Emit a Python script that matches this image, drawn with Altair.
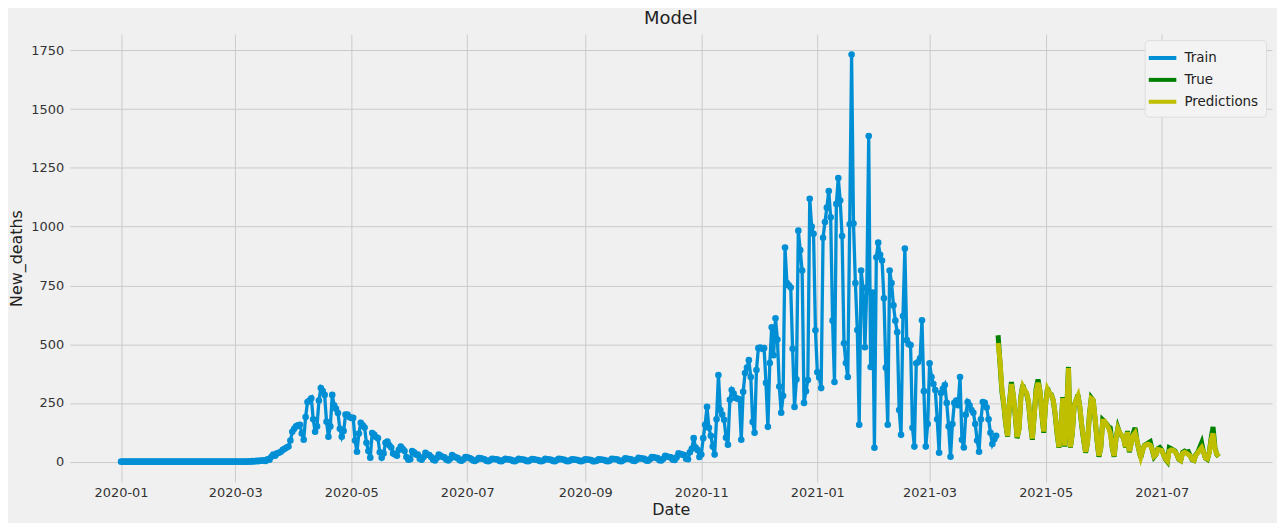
import altair as alt
import pandas as pd

# ---- Train series (daily New_deaths), one list per month ----
train_2020_01 = [0, 0, 0, 0, 0, 0, 0, 0, 0, 0, 0, 0, 0, 0, 0, 0, 0, 0, 0, 0, 0, 0, 0, 0, 0, 0, 0, 0, 0, 0, 0]
train_2020_02 = [0, 0, 0, 0, 0, 0, 0, 0, 0, 0, 0, 0, 0, 0, 0, 0, 0, 0, 0, 0, 0, 0, 0, 0, 0, 0, 0, 0, 0]
train_2020_03 = [0, 0, 0, 0, 0, 0, 0, 1, 0, 2, 1, 3, 2, 5, 4, 6, 3, 10, 8, 21, 30, 25, 35, 38, 42, 50, 55, 60, 64, 90, 127]
train_2020_04 = [140, 150, 155, 157, 120, 93, 190, 254, 260, 270, 180, 127, 150, 260, 313, 300, 284, 170, 106, 150,
                 284, 240, 225, 207, 140, 106, 130, 200, 200, 190]
train_2020_05 = [186, 186, 90, 42, 120, 165, 155, 145, 80, 45, 17, 122, 115, 105, 100, 40, 17, 35, 80, 85,
                 70, 60, 35, 30, 25, 50, 64, 55, 45, 20, 8]
train_2020_06 = [10, 45, 40, 30, 30, 12, 8, 20, 38, 30, 28, 20, 8, 5, 15, 30, 25, 20, 18, 8,
                 5, 12, 28, 22, 18, 15, 6, 4, 10, 20]
train_2020_07 = [18, 15, 12, 5, 3, 8, 15, 14, 12, 10, 4, 2, 6, 12, 11, 10, 9, 3, 2, 7,
                 12, 10, 9, 8, 3, 2, 6, 12, 10, 9, 8]
train_2020_08 = [3, 2, 6, 11, 10, 8, 7, 3, 2, 5, 12, 10, 9, 8, 3, 2, 6, 12, 11, 9,
                 8, 3, 2, 5, 10, 9, 8, 7, 3, 2, 5]
train_2020_09 = [10, 9, 8, 7, 2, 2, 4, 10, 9, 8, 7, 3, 2, 5, 12, 11, 10, 9, 3, 2,
                 6, 14, 12, 11, 10, 4, 3, 8, 16, 14]
train_2020_10 = [13, 12, 5, 4, 10, 20, 18, 16, 15, 6, 5, 12, 25, 22, 20, 18, 8, 7, 18, 35,
                 32, 30, 28, 12, 10, 40, 55, 100, 60, 50, 20]
train_2020_11 = [30, 100, 157, 233, 144, 110, 64, 30, 180, 369, 220, 200, 178, 102, 72, 263, 305, 290, 271, 268,
                 265, 93, 297, 377, 400, 432, 360, 169, 123, 390]
train_2020_12 = [483, 485, 480, 483, 335, 148, 420, 572, 453, 610, 520, 320, 208, 280, 911, 760, 750, 741, 480, 233,
                 350, 983, 900, 813, 250, 300, 347, 1119, 1000, 970, 559]
train_2021_01 = [380, 358, 313, 953, 1020, 1081, 1152, 1040, 600, 339, 1097, 1207, 1111, 960, 504, 420, 360, 1010,
                 1733, 1013, 760, 560, 157, 813, 740, 487, 740, 1386, 403, 720, 59]
train_2021_02 = [870, 932, 880, 856, 695, 400, 157, 813, 760, 665, 600, 551, 220, 114, 620, 907, 517, 500, 496, 144,
                 64, 419, 424, 440, 602, 300, 64, 160]
train_2021_03 = [419, 360, 330, 305, 180, 38, 292, 310, 326, 250, 150, 21, 160, 250, 260, 240, 360, 93, 60, 200,
                 254, 240, 220, 208, 160, 90, 42, 180, 254, 250, 230]
train_2021_04 = [180, 123, 75, 95, 110]

# ---- Test period: True and Predictions (start 2021-04-06) ----
true_2021_04 = [538, 420, 300, 240, 160, 106, 250, 339, 280, 200, 100, 140, 280, 326, 300, 290, 250, 160, 93, 200,
                310, 350, 300, 200, 123]
true_2021_05 = [250, 313, 290, 285, 260, 200, 120, 59, 130, 275, 64, 200, 403, 59, 120, 240, 260, 284, 230, 150,
                90, 38, 80, 200, 271, 260, 180, 90, 21, 60, 178]
true_2021_06 = [170, 160, 150, 144, 60, 21, 100, 144, 120, 110, 100, 60, 130, 40, 80, 120, 144, 90, 50, 17,
                50, 70, 75, 80, 85, 50, 20, 30, 55, 60]
true_2021_07 = [50, 30, 10, 0, 59, 55, 50, 45, 30, 10, 5, 40, 45, 40, 42, 25, 8, 5, 30, 40,
                60, 80, 40, 15, 10, 40, 100, 148, 60, 30, 21]

pred_2021_04 = [505, 430, 310, 245, 165, 110, 245, 330, 285, 205, 105, 135, 275, 320, 305, 292, 255, 165, 98, 195,
                300, 335, 305, 205, 128]
pred_2021_05 = [245, 308, 292, 283, 262, 205, 125, 62, 128, 270, 68, 198, 398, 62, 118, 236, 262, 280, 232, 155,
                95, 42, 78, 196, 268, 262, 185, 95, 25, 58, 172]
pred_2021_06 = [172, 158, 145, 120, 62, 24, 98, 140, 122, 112, 98, 62, 126, 44, 78, 112, 122, 92, 52, 20,
                48, 68, 72, 74, 70, 52, 23, 30, 52, 50]
pred_2021_07 = [48, 30, 12, 3, 45, 50, 48, 42, 30, 12, 6, 36, 40, 36, 30, 24, 10, 6, 28, 38,
                50, 60, 40, 16, 12, 36, 90, 120, 55, 32, 22]

series_names = ["Train", "True", "Predictions"]
series_colors = ["#008fd5", "#008000", "#bfbf00"]
y_ticks = [0, 250, 500, 750, 1000, 1250, 1500, 1750]


def month_frame(start, values, name):
    dates = pd.date_range(start, periods=len(values), freq="D")
    return pd.DataFrame({"Date": dates, "New_deaths": values, "Series": name})


train_parts = [
    ("2020-01-01", train_2020_01), ("2020-02-01", train_2020_02), ("2020-03-01", train_2020_03),
    ("2020-04-01", train_2020_04), ("2020-05-01", train_2020_05), ("2020-06-01", train_2020_06),
    ("2020-07-01", train_2020_07), ("2020-08-01", train_2020_08), ("2020-09-01", train_2020_09),
    ("2020-10-01", train_2020_10), ("2020-11-01", train_2020_11), ("2020-12-01", train_2020_12),
    ("2021-01-01", train_2021_01), ("2021-02-01", train_2021_02), ("2021-03-01", train_2021_03),
    ("2021-04-01", train_2021_04),
]
true_parts = [("2021-04-06", true_2021_04), ("2021-05-01", true_2021_05),
              ("2021-06-01", true_2021_06), ("2021-07-01", true_2021_07)]
pred_parts = [("2021-04-06", pred_2021_04), ("2021-05-01", pred_2021_05),
              ("2021-06-01", pred_2021_06), ("2021-07-01", pred_2021_07)]

df = pd.concat(
    [month_frame(s, v, "Train") for s, v in train_parts]
    + [month_frame(s, v, "True") for s, v in true_parts]
    + [month_frame(s, v, "Predictions") for s, v in pred_parts],
    ignore_index=True,
)
df["Date"] = df["Date"].dt.strftime("%Y-%m-%d")

tick_dates = [alt.DateTime(year=y, month=m, date=1) for y, m in
              [(2020, 1), (2020, 3), (2020, 5), (2020, 7), (2020, 9), (2020, 11), (2021, 1), (2021, 3), (2021, 5), (2021, 7)]]

color = alt.Color(
    "Series:N",
    scale=alt.Scale(domain=series_names, range=series_colors),
    legend=alt.Legend(
        title=None, orient="top-right", offset=6, symbolType="M-1.6,0H1.6", symbolStrokeWidth=4,
        symbolSize=300, labelOffset=11, labelFontSize=13.5, labelFont="DejaVu Sans", labelColor="#222222",
        fillColor="#f3f3f3", strokeColor="#dddddd", cornerRadius=4, padding=7, rowPadding=3,
    ),
)

x = alt.X(
    "Date:T",
    title="Date",
    scale=alt.Scale(domain=[alt.DateTime(year=2019, month=12, date=5), alt.DateTime(year=2021, month=8, date=28)]),
    axis=alt.Axis(values=tick_dates, format="%Y-%m", labelPadding=5, titlePadding=2),
)
y = alt.Y(
    "New_deaths:Q",
    title="New_deaths",
    scale=alt.Scale(domain=[-86.6, 1819.6], nice=False, zero=False),
    axis=alt.Axis(values=y_ticks, format="d", labelPadding=6, titlePadding=6),
)

base = alt.Chart(df).encode(x=x, y=y, color=color, order="Date:T")

train = base.transform_filter(alt.datum.Series == "Train").mark_line(
    strokeWidth=3.3, point=alt.OverlayMarkDef(size=44, filled=True, color="#008fd5", opacity=1)
)
true = base.transform_filter(alt.datum.Series == "True").mark_line(strokeWidth=5)
pred = base.transform_filter(alt.datum.Series == "Predictions").mark_line(strokeWidth=5)

chart = (
    alt.layer(train, true, pred)
    .properties(
        width=1208, height=450,
        title=alt.TitleParams("Model", fontSize=18, font="DejaVu Sans", fontWeight="normal", color="#222222", offset=6),
        autosize=alt.AutoSizeParams(type="none"),
        padding={"left": 62, "top": 25, "right": 5, "bottom": 40},
        background="#f0f0f0",
    )
    .configure_view(strokeWidth=0, fill="#f0f0f0")
    .configure_axis(
        domain=False, ticks=False, grid=True, gridColor="#cbcbcb", gridWidth=1,
        labelFont="DejaVu Sans", labelFontSize=13, labelColor="#333333",
        titleFont="DejaVu Sans", titleFontSize=16, titleFontWeight="normal", titleColor="#222222",
    )
)

chart.save("out.html", embed_options={"renderer": "svg", "actions": False})
